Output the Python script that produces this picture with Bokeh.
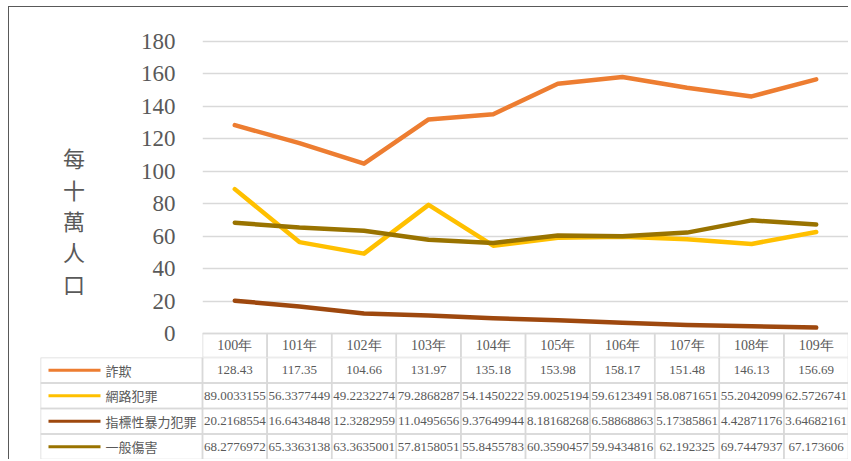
from bokeh.plotting import figure
from bokeh.models import Range1d, FixedTicker
from bokeh.layouts import column
from bokeh.core.properties import value
from bokeh.embed import file_html
from bokeh.resources import INLINE

# ---------------- data ----------------
years = ["100年", "101年", "102年", "103年", "104年", "105年", "106年", "107年", "108年", "109年"]
series_names = ["詐欺", "網路犯罪", "指標性暴力犯罪", "一般傷害"]
fraud = [128.43, 117.35, 104.66, 131.97, 135.18, 153.98, 158.17, 151.48, 146.13, 156.69]
cyber = [89.0033155, 56.3377449, 49.2232274, 79.2868287, 54.1450222, 59.0025194,
         59.6123491, 58.0871651, 55.2042099, 62.5726741]
violent = [20.2168554, 16.6434848, 12.3282959, 11.0495656, 9.37649944, 8.18168268,
           6.58868863, 5.17385861, 4.42871176, 3.64682161]
assault = [68.2776972, 65.3363138, 63.3635001, 57.8158051, 55.8455783, 60.3590457,
           59.9434816, 62.192325, 69.7447937, 67.173606]
y_ticks = [0, 20, 40, 60, 80, 100, 120, 140, 160, 180]
y_label = "\n\n每\n十\n萬\n人\n口"

series_values = [fraud, cyber, violent, assault]
colors = ["#ED7D31", "#FFC000", "#9E480E", "#997300"]

# ---------------- layout ----------------
TOTAL_W = 839
TOP_LEFT = 193
FRAME_W = TOTAL_W - TOP_LEFT
n = len(years)
col_w = FRAME_W / n
LEG_PX = 162
leg_units = LEG_PX / col_w
HEAD_H = 24
ROW_H = 25.5
TOP_BORDER = 12
ZERO_PX = 326       # distance from figure top to zero line
TOP_TICK_PX = 34    # distance from figure top to 180 line
k = (ZERO_PX - TOP_TICK_PX) / 180.0
y_max = (ZERO_PX - TOP_BORDER) / k
y_min = -HEAD_H / k
TOP_H = ZERO_PX + HEAD_H

GRID = "#d9d9d9"
TXT = "#595959"
SERIF = "Times"
CJK = "Noto Sans CJK TC"

xs = [i + 0.5 for i in range(n)]

# ---------------- top figure: chart + header row ----------------
p = figure(width=TOTAL_W, height=TOP_H, x_range=Range1d(0, n), y_range=Range1d(y_min, y_max),
           x_axis_type=None, output_backend="svg", toolbar_location=None,
           min_border_left=TOP_LEFT, min_border_right=0, min_border_top=TOP_BORDER,
           min_border_bottom=0, frame_align=False)
p.outline_line_color = None
p.background_fill_color = "white"
p.border_fill_color = "white"
p.xgrid.visible = False
p.ygrid.grid_line_color = GRID
p.ygrid.grid_line_width = 1.5
p.ygrid.ticker = FixedTicker(ticks=y_ticks)
p.yaxis.ticker = FixedTicker(ticks=y_ticks)
p.yaxis.axis_line_color = None
p.yaxis.major_tick_line_color = None
p.yaxis.minor_tick_line_color = None
p.yaxis.major_label_standoff = 21
p.yaxis.major_label_text_font = "serif"
p.yaxis.major_label_text_font_style = "normal"
p.yaxis.major_label_text_font_size = "23px"
p.yaxis.major_label_text_color = TXT
p.yaxis.axis_label = y_label
p.yaxis.axis_label_orientation = "horizontal"
p.yaxis.axis_label_text_font = CJK
p.yaxis.axis_label_text_font_style = "normal"
p.yaxis.axis_label_text_font_size = "22px"
p.yaxis.axis_label_text_color = TXT
p.yaxis.axis_label_text_line_height = 0.98
p.yaxis.axis_label_standoff = 53

# header cells
p.quad(left=list(range(n)), right=[i + 1 for i in range(n)], top=0, bottom=y_min,
       fill_color=None, line_color=GRID, line_width=1.5)
p.text(x=xs, y=[y_min / 2] * n, text=years, text_align="center", text_baseline="middle",
       text_font=value(SERIF), text_font_size="14px", text_color=TXT)

for vals, c in zip(series_values, colors):
    p.line(x=xs, y=vals, line_width=4.5, line_color=c, line_cap="round", line_join="round")

# ---------------- bottom figure: data table ----------------
BOT_LEFT = TOP_LEFT - LEG_PX
nr = len(series_names)
t = figure(width=TOTAL_W, height=int(ROW_H * nr), x_range=Range1d(-leg_units, n),
           y_range=Range1d(nr, 0), x_axis_type=None, y_axis_type=None,
           output_backend="svg", toolbar_location=None,
           min_border_left=BOT_LEFT, min_border_right=0, min_border_top=0, min_border_bottom=0,
           frame_align=False)
t.outline_line_color = None
t.xgrid.visible = False
t.ygrid.visible = False
t.background_fill_color = "white"
t.border_fill_color = "white"

lefts, rights, tops, bottoms = [], [], [], []
cx, cy, ctext = [], [], []
for r in range(nr):
    lefts.append(-leg_units); rights.append(0); tops.append(r); bottoms.append(r + 1)
    for i in range(n):
        lefts.append(i); rights.append(i + 1); tops.append(r); bottoms.append(r + 1)
        cx.append(i + 0.5); cy.append(r + 0.5); ctext.append(str(series_values[r][i]))
t.quad(left=lefts, right=rights, top=tops, bottom=bottoms, fill_color=None,
       line_color=GRID, line_width=1.5)
t.text(x=cx, y=cy, text=ctext, text_align="center", text_baseline="middle",
       text_font=value(SERIF), text_font_size="13px", text_color=TXT)

sx0 = -leg_units + 8 / col_w
sx1 = -leg_units + 60 / col_w
tx = -leg_units + 65 / col_w
rows_y = [r + 0.5 for r in range(nr)]
t.segment(x0=[sx0] * nr, x1=[sx1] * nr, y0=rows_y, y1=rows_y, line_color=colors, line_width=3)
t.text(x=[tx] * nr, y=rows_y, text=series_names, text_align="left", text_baseline="middle",
       text_font=value(CJK), text_font_size="13px", text_color=TXT)

layout = column(p, t, spacing=0, styles={"margin-left": "8px", "margin-top": "6px",
                                         "border-left": "1px solid #595959",
                                         "border-top": "1px solid #595959"})

open("out.html", "w").write(file_html(layout, INLINE))
